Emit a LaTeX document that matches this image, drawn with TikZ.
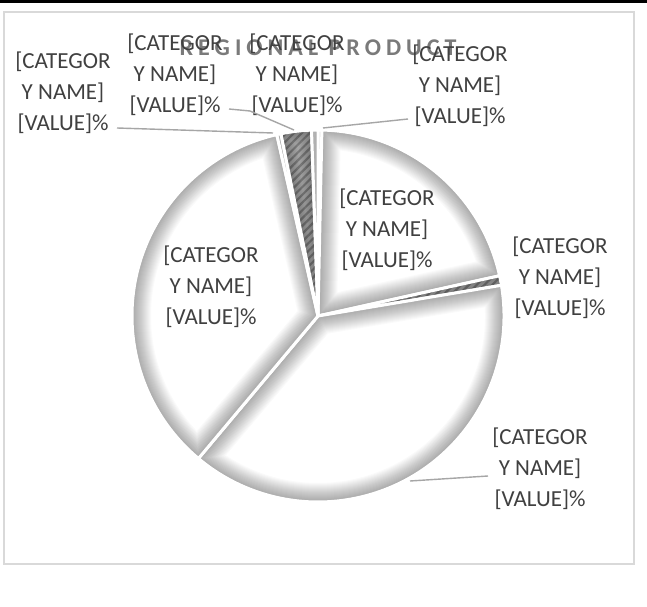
\documentclass[tikz,border=0pt]{standalone}
\usepackage{fontspec}
\setmainfont{Carlito}
\usetikzlibrary{patterns.meta}
\definecolor{labelgray}{HTML}{404040}
\definecolor{leadergray}{HTML}{A6A6A6}
\definecolor{framegray}{HTML}{D9D9D9}
\definecolor{titlegray}{HTML}{7A7A7A}
\definecolor{hatchbase}{HTML}{BDBDBD}
\definecolor{hatchline}{HTML}{8C8C8C}
\newcommand\lbltext{{[}CATEGOR\\ Y NAME]\\ {[}VALUE]\%}
\newcommand\tk{\kern5pt}
\tikzset{
  whiteslice/.style={fill=white},
  hatchslice/.style={preaction={fill=hatchbase}, pattern={Lines[angle=45,distance=5.5pt,line width=2.2pt]}, pattern color=hatchline},
  lbl/.style={font=\fontsize{23}{31}\selectfont, text=labelgray, align=center, inner sep=0pt},
  leader/.style={draw=leadergray, line width=1.4pt},
  ttl/.style={font=\bfseries\fontsize{24}{24}\selectfont, text=titlegray, inner sep=0pt}
}
\newcommand\drawslice[3]{%
  \begin{scope}
    \clip (C) -- ++(#1:186pt) arc[start angle=#1, end angle=#2, radius=186pt] -- cycle;
    \path[#3] (C) -- ++(#1:186pt) arc[start angle=#1, end angle=#2, radius=186pt] -- cycle;
    \foreach \w in {2,4,...,38}
      \draw[line width=\w pt, black, opacity=0.018, line join=round] (C) -- ++(#1:186pt) arc[start angle=#1, end angle=#2, radius=186pt] -- cycle;
  \end{scope}
  \draw[white, line width=3pt, line join=round] (C) -- ++(#1:186pt) arc[start angle=#1, end angle=#2, radius=186pt] -- cycle;
}
\begin{document}
\begin{tikzpicture}[x=1pt,y=1pt]
\useasboundingbox (0,0) rectangle (647,606);
\fill[white] (0,0) rectangle (647,606);
\fill[black] (0,602.5) rectangle (647,606);
\draw[framegray, line width=1.5pt] (4,42) rectangle (634,594);
\coordinate (C) at (318,290);
% slices
\drawslice{90}{88.8}{whiteslice}
\drawslice{88.8}{12.5}{whiteslice}
\drawslice{12.5}{9.5}{hatchslice}
\drawslice{9.5}{-130}{whiteslice}
\drawslice{230}{102.8}{whiteslice}
\drawslice{102.8}{101.5}{whiteslice}
\drawslice{101.5}{92}{hatchslice}
\drawslice{92}{90}{whiteslice}
% title
\node[ttl] (title) at (318,558) {R\tk E\tk G\tk I\tk O\tk N\tk A\tk L\tk{} P\tk R\tk O\tk D\tk U\tk C\tk T};
% labels
\node[lbl] (lab1) at (63,513) {\lbltext};
\node[lbl] (lab2) at (175,531) {\lbltext};
\node[lbl] (lab3) at (297,531) {\lbltext};
\node[lbl] (lab4) at (460,520) {\lbltext};
\node[lbl] (lab5) at (387,376) {\lbltext};
\node[lbl] (lab6) at (560,328) {\lbltext};
\node[lbl] (lab7) at (540,137) {\lbltext};
\node[lbl] (lab8) at (211,319) {\lbltext};
% leader lines
\coordinate (l1a) at (117,478); \coordinate (l1b) at (273,473);
\coordinate (l2a) at (229,497); \coordinate (l2m) at (250,495); \coordinate (l2b) at (294,476);
\coordinate (l3a) at (408,487); \coordinate (l3b) at (323,478);
\coordinate (l4a) at (488,130); \coordinate (l4b) at (410,125);
\draw[leader] (l1a) -- (l1b);
\draw[leader] (l2a) -- (l2m) -- (l2b);
\draw[leader] (l3a) -- (l3b);
\draw[leader] (l4a) -- (l4b);
\end{tikzpicture}
\end{document}
